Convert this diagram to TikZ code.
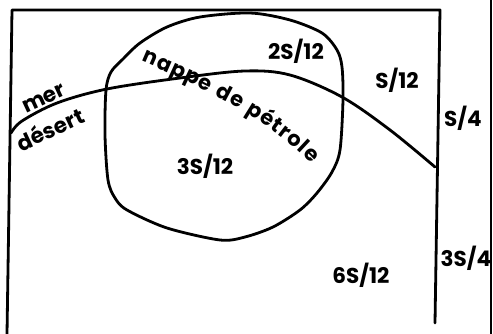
\documentclass[tikz,border=0pt]{standalone}
\usepackage{fontspec}
\setmainfont{Poppins}
\usetikzlibrary{decorations.text}
\begin{document}
\begin{tikzpicture}[x=1pt,y=1pt,line width=2.8pt,line join=round,line cap=round,
  lbl/.style={font=\bfseries\fontsize{21.5}{21.5}\selectfont,inner sep=0pt}]
\useasboundingbox (0,-334) rectangle (493,0);
% frame
\draw (7,-334) -- (12,-10) -- (440,-10) -- (435,-323);
\draw (491,0) -- (491,-334);
% coast line
\draw plot[smooth,tension=0.55] coordinates {(11,-133) (22,-121) (57,-103) (107,-89) (180,-78) (245,-71) (290,-75) (342,-97) (390,-130) (435,-167)};
% oil field
\draw plot[smooth cycle,tension=0.5] coordinates {(106,-90) (111,-72) (123,-59) (140,-43) (167,-27) (200,-17) (250,-13) (290,-20) (322,-33) (337,-50) (342,-67) (343,-100) (340,-150) (332,-172) (317,-193) (300,-210) (273,-227) (245,-237) (220,-240) (167,-228) (127,-210) (115,-198) (108,-180) (105,-135)};
% curved label
\path[decorate,decoration={text along path,text align={fit to path},
  text={|\bfseries\fontsize{21}{21}\selectfont|nappe de pétrole}}]
  (141,-61) .. controls (185,-80) and (268,-116) .. (311,-164);
% labels
\node[lbl,rotate=25] (mer) at (44,-99) {mer};
\node[lbl,rotate=25] (desert) at (50,-129) {désert};
\node[lbl] (a) at (296,-51) {2S/12};
\node[lbl] (b) at (397,-80) {S/12};
\node[lbl] (c) at (463,-118) {S/4};
\node[lbl] (d) at (205,-166) {3S/12};
\node[lbl] (e) at (361,-275) {6S/12};
\node[lbl] (f) at (466,-258) {3S/4};
\end{tikzpicture}
\end{document}
